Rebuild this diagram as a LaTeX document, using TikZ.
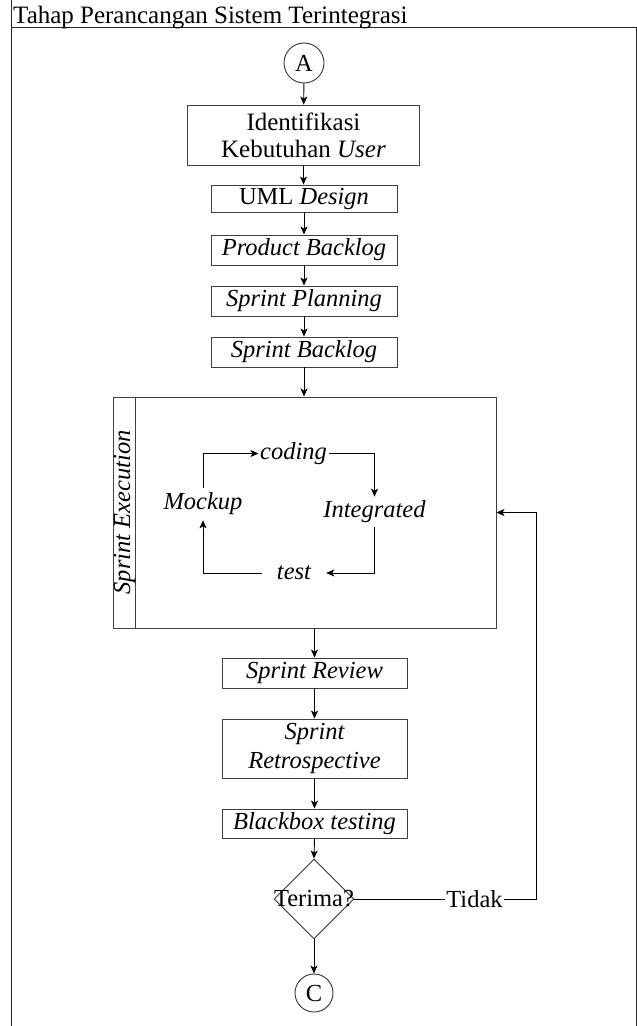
\documentclass[tikz,border=0pt]{standalone}
\usepackage{fontspec}
\setmainfont{Liberation Serif}
\usetikzlibrary{arrows.meta,shapes.geometric}
\begin{document}
\begin{tikzpicture}[x=1pt,y=-1pt,
  every node/.style={font=\fontsize{24.5}{27}\selectfont, inner sep=0pt},
  frameline/.style={line width=0.9pt, draw=black!85},
  box/.style={draw=black!75, line width=0.9pt, align=center},
  conn/.style={circle, draw=black!80, line width=0.9pt, minimum size=40pt},
  arr/.style={line width=0.9pt, -{Stealth[length=8pt,width=7pt,inset=2pt]}},
  ln/.style={line width=0.9pt}]
\useasboundingbox (0,0) rectangle (637,1026);
% frame
\draw[frameline] (11,0) -- (11,1026);
\draw[frameline] (11,27) -- (637,27);
\draw[frameline] (636,27) -- (636,1026);
\node[anchor=base west, font=\fontsize{25}{28}\selectfont] (title) at (13,23) {Tahap Perancangan Sistem Terintegrasi};
% main column
\node[conn] (A) at (304,63) {A};
\node[box, minimum width=232pt, minimum height=60pt, font=\fontsize{25}{27}\selectfont] (idn) at (303.5,135) {Identifikasi\\Kebutuhan \textit{User}};
\node[box, minimum width=186pt, minimum height=27pt] (uml) at (304,198.5) {UML \textit{Design}};
\node[box, minimum width=186pt, minimum height=30pt, font=\fontsize{24.5}{27}\selectfont\itshape] (pb) at (304,250) {Product Backlog};
\node[box, minimum width=186pt, minimum height=30pt, font=\fontsize{24.5}{27}\selectfont\itshape] (sp) at (304,301) {Sprint Planning};
\node[box, minimum width=186pt, minimum height=30pt, font=\fontsize{24.5}{27}\selectfont\itshape] (sb) at (304,352) {Sprint Backlog};
% execution box
\node[box, minimum width=383pt, minimum height=231pt] (exec) at (304.5,512.5) {};
\draw[ln, draw=black!75] ([xshift=23pt]exec.north west) -- ([xshift=23pt]exec.south west);
\node[rotate=90, font=\fontsize{24.5}{27}\selectfont\itshape] (sel) at (124.5,512.5) {Sprint Execution};
% inner loop
\node[font=\fontsize{24.5}{27}\selectfont\itshape, inner xsep=0pt, inner ysep=5pt] (mock) at (203,504) {Mockup};
\node[font=\fontsize{24.5}{27}\selectfont\itshape, inner xsep=1.5pt] (cod) at (293.5,453.5) {coding};
\node[font=\fontsize{24.5}{27}\selectfont\itshape, inner ysep=4pt] (integ) at (374.5,512) {Integrated};
\node[font=\fontsize{24.5}{27}\selectfont\itshape, inner xsep=15pt] (tst) at (294,573) {test};
\draw[arr] (mock.north) |- (cod.west);
\draw[arr] (cod.east) -| (integ.north);
\draw[arr] (integ.south) |- (tst.east);
\draw[arr] (tst.west) -| (mock.south);
% lower column
\node[box, minimum width=185pt, minimum height=30pt, font=\fontsize{24.5}{27}\selectfont\itshape] (sr) at (314.5,673) {Sprint Review};
\node[box, minimum width=185pt, minimum height=59pt, font=\fontsize{24.5}{29}\selectfont\itshape] (sretro) at (314.5,748.5) {Sprint\\Retrospective};
\node[box, minimum width=185pt, minimum height=29pt, font=\fontsize{24.5}{27}\selectfont\itshape] (bb) at (314.5,823.5) {Blackbox testing};
\node[diamond, draw=black!80, line width=0.9pt, minimum width=80pt, minimum height=80pt] (dec) at (314,899) {};
\node (decl) at (dec.center) {Terima?};
\node[inner xsep=1pt] (tidak) at (474.5,899) {Tidak};
\node[conn, minimum size=38pt] (C) at (314,993) {C};
% connectors
\draw[arr] (A) -- (idn);
\draw[arr] (idn) -- (idn.south |- uml.north);
\draw[arr] (uml) -- (pb);
\draw[arr] (pb) -- (sp);
\draw[arr] (sp) -- (sb);
\draw[arr] (sb.south) -- (sb.south |- exec.north);
\draw[arr] (sr.north |- exec.south) -- (sr.north);
\draw[arr] (sr) -- (sretro);
\draw[arr] (sretro) -- (bb);
\draw[arr] (bb.south) -- (dec.north);
\draw[arr] (dec.south) -- (C.north);
\draw[ln] (dec.east) -- (tidak.west);
\coordinate (rt) at (536,899);
\draw[arr] (tidak.east) -- (rt) |- (exec.east);
\end{tikzpicture}
\end{document}
